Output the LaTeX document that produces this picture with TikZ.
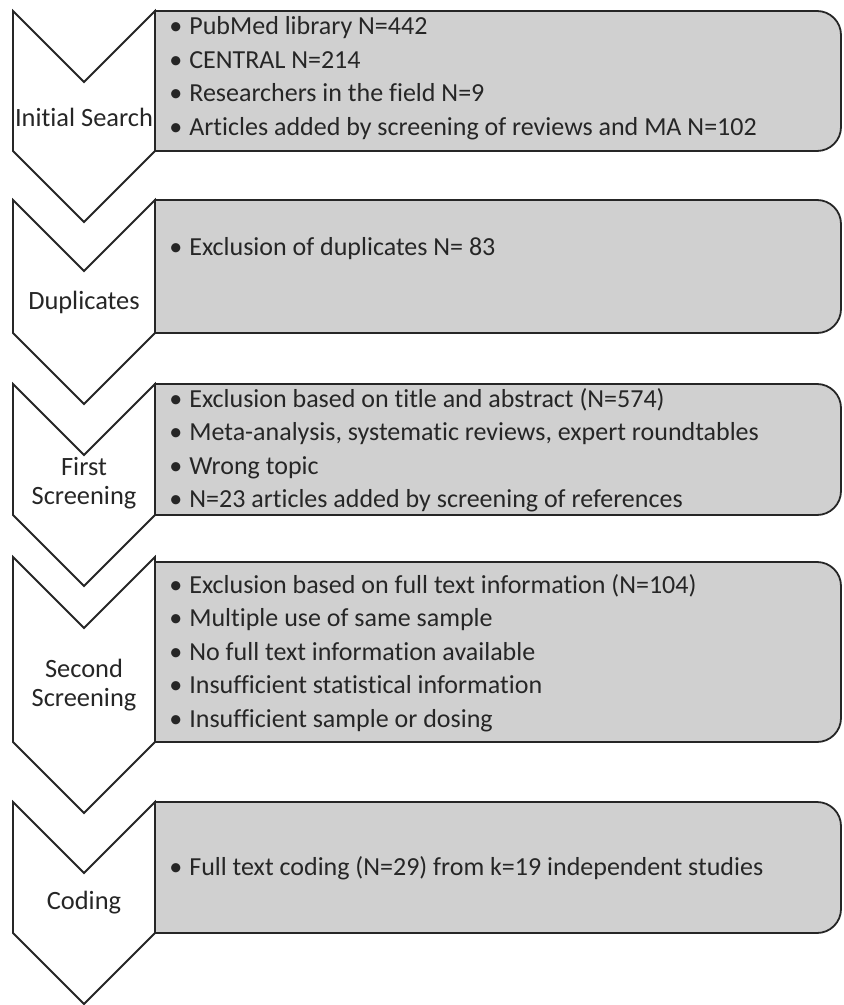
\documentclass[tikz,border=0pt]{standalone}
\usepackage{fontspec}
\setmainfont[Ligatures=NoCommon]{Carlito}
\usetikzlibrary{positioning}
\definecolor{panelgray}{RGB}{208,208,208}
\newcommand{\itm}{\textbullet\hspace{3.5pt}}
\newcommand{\chevron}[2]{\draw[chev] (13,#1) -- (84,#1+71) -- (155,#1) -- (155,#2) -- (84,#2+71) -- (13,#2) -- cycle;}
\newcommand{\panel}[2]{\draw[panel] (500,#1) [rounded corners=12pt] -- (841,#1) -- (841,#2) -- (500,#2) [sharp corners] -- (155,#2) -- (155,#1) -- cycle;}
\tikzset{
  chev/.style={draw=black!85,line width=0.9pt,fill=white,line join=miter},
  panel/.style={draw=black!85,line width=0.9pt,fill=panelgray},
  phase/.style={align=center,inner sep=0pt,text=black!85,font=\fontsize{13.2}{14.5}\selectfont},
  items/.style={anchor=west,align=left,inner sep=0pt,text=black!85,font=\fontsize{13}{16.75}\selectfont}
}
\begin{document}
\begin{tikzpicture}[x=0.5pt,y=-0.5pt]
  \useasboundingbox (0,0) rectangle (843,1005);
  \chevron{11}{151}
  \panel{11}{151}
  \node [phase] (search) at (84,117) {Initial Search};
  \node [items] (search_list) at (169,78) {\itm PubMed library N=442\\
    \itm CENTRAL N=214\\
    \itm Researchers in the field N=9\\
    \itm Articles added by screening of reviews and MA N=102};

  \chevron{200}{333}
  \panel{200}{333}
  \node [phase] (dupl) at (84,302) {Duplicates};
  \node [items] (dupl_list) at (169,249) {\itm Exclusion of duplicates N= 83};

  \chevron{384}{515}
  \panel{384}{515}
  \node [phase] (first) at (84,483) {First\\Screening};
  \node [items] (first_list) at (169,450) {\itm Exclusion based on title and abstract (N=574)\\
    \itm Meta-analysis, systematic reviews, expert roundtables\\
    \itm Wrong topic\\
    \itm N=23 articles added by screening of references};

  \chevron{557}{742}
  \panel{562}{742}
  \node [phase] (second) at (84,685) {Second\\Screening};
  \node [items] (second_list) at (169,653) {\itm Exclusion based on full text information (N=104)\\
    \itm Multiple use of same sample\\
    \itm No full text information available\\
    \itm Insufficient statistical information\\
    \itm Insufficient sample or dosing};

  \chevron{802}{933}
  \panel{802}{933}
  \node [phase] (coding) at (84,903) {Coding};
  \node [items] (coding_list) at (169,868) {\itm Full text coding (N=29) from k=19 independent studies};
\end{tikzpicture}
\end{document}
